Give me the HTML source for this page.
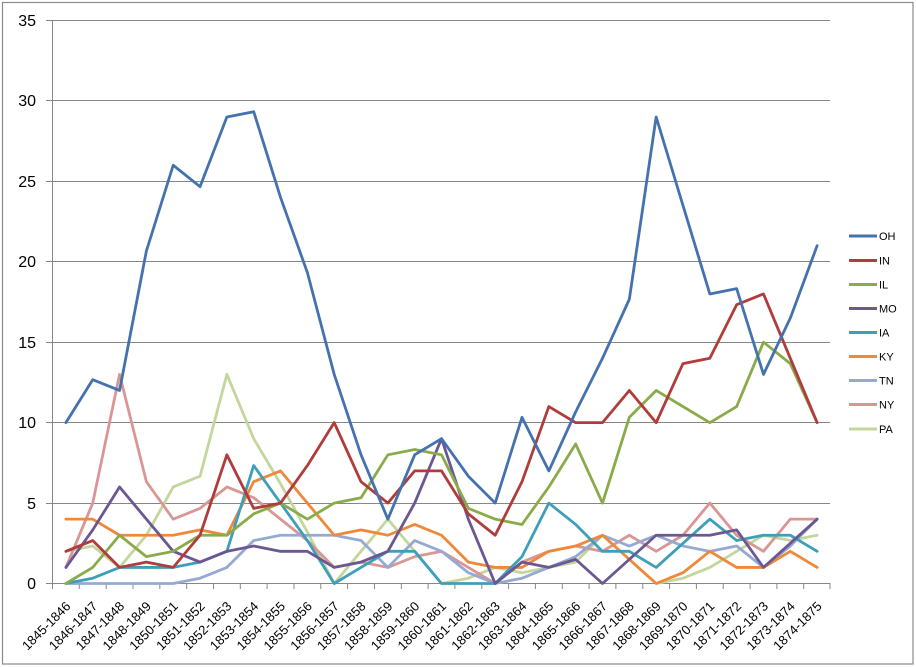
<!DOCTYPE html>
<html>
<head>
<meta charset="utf-8">
<style>
  html,body{margin:0;padding:0;background:#fff;}
  svg{display:block;}
  text{font-family:"Liberation Sans",sans-serif;fill:#000;}
</style>
</head>
<body>
<svg width="916" height="667" viewBox="0 0 916 667" xmlns="http://www.w3.org/2000/svg">
  <rect x="0" y="0" width="916" height="667" fill="#fff"/>
  <rect x="2.5" y="2.5" width="910.5" height="661.5" fill="none" stroke="#8a8a8a" stroke-width="1.2"/>

  <!-- gridlines -->
  <g stroke="#878787" stroke-width="1">
    <line x1="52" y1="20.5" x2="830" y2="20.5"/>
    <line x1="52" y1="100.5" x2="830" y2="100.5"/>
    <line x1="52" y1="181.5" x2="830" y2="181.5"/>
    <line x1="52" y1="261.5" x2="830" y2="261.5"/>
    <line x1="52" y1="342.5" x2="830" y2="342.5"/>
    <line x1="52" y1="422.5" x2="830" y2="422.5"/>
    <line x1="52" y1="503.5" x2="830" y2="503.5"/>
    <line x1="52" y1="583.5" x2="830" y2="583.5"/>
    <line x1="52.5" y1="20.5" x2="52.5" y2="583.5"/>
    <!-- y ticks -->
    <line x1="46" y1="20.5" x2="52" y2="20.5"/>
    <line x1="46" y1="100.5" x2="52" y2="100.5"/>
    <line x1="46" y1="181.5" x2="52" y2="181.5"/>
    <line x1="46" y1="261.5" x2="52" y2="261.5"/>
    <line x1="46" y1="342.5" x2="52" y2="342.5"/>
    <line x1="46" y1="422.5" x2="52" y2="422.5"/>
    <line x1="46" y1="503.5" x2="52" y2="503.5"/>
    <line x1="46" y1="583.5" x2="52" y2="583.5"/>
    <!-- x ticks -->
    <line x1="52.5" y1="583" x2="52.5" y2="589"/>
    <line x1="79.3" y1="583" x2="79.3" y2="589"/>
    <line x1="106.2" y1="583" x2="106.2" y2="589"/>
    <line x1="133" y1="583" x2="133" y2="589"/>
    <line x1="159.8" y1="583" x2="159.8" y2="589"/>
    <line x1="186.7" y1="583" x2="186.7" y2="589"/>
    <line x1="213.5" y1="583" x2="213.5" y2="589"/>
    <line x1="240.3" y1="583" x2="240.3" y2="589"/>
    <line x1="267.1" y1="583" x2="267.1" y2="589"/>
    <line x1="294" y1="583" x2="294" y2="589"/>
    <line x1="320.8" y1="583" x2="320.8" y2="589"/>
    <line x1="347.6" y1="583" x2="347.6" y2="589"/>
    <line x1="374.5" y1="583" x2="374.5" y2="589"/>
    <line x1="401.3" y1="583" x2="401.3" y2="589"/>
    <line x1="428.1" y1="583" x2="428.1" y2="589"/>
    <line x1="454.9" y1="583" x2="454.9" y2="589"/>
    <line x1="481.8" y1="583" x2="481.8" y2="589"/>
    <line x1="508.6" y1="583" x2="508.6" y2="589"/>
    <line x1="535.4" y1="583" x2="535.4" y2="589"/>
    <line x1="562.3" y1="583" x2="562.3" y2="589"/>
    <line x1="589.1" y1="583" x2="589.1" y2="589"/>
    <line x1="615.9" y1="583" x2="615.9" y2="589"/>
    <line x1="642.8" y1="583" x2="642.8" y2="589"/>
    <line x1="669.6" y1="583" x2="669.6" y2="589"/>
    <line x1="696.4" y1="583" x2="696.4" y2="589"/>
    <line x1="723.2" y1="583" x2="723.2" y2="589"/>
    <line x1="750.1" y1="583" x2="750.1" y2="589"/>
    <line x1="776.9" y1="583" x2="776.9" y2="589"/>
    <line x1="803.7" y1="583" x2="803.7" y2="589"/>
    <line x1="830" y1="583" x2="830" y2="589"/>
  </g>

  <!-- y labels -->
  <g font-size="16" text-anchor="end">
    <text x="36" y="26">35</text>
    <text x="36" y="106">30</text>
    <text x="36" y="187">25</text>
    <text x="36" y="267">20</text>
    <text x="36" y="348">15</text>
    <text x="36" y="428">10</text>
    <text x="36" y="509">5</text>
    <text x="36" y="589">0</text>
  </g>

  <!-- x labels -->
  <g font-size="13" text-anchor="end">
    <text transform="translate(71.4,607) rotate(-45)">1845-1846</text>
    <text transform="translate(98.2,607) rotate(-45)">1846-1847</text>
    <text transform="translate(125.1,607) rotate(-45)">1847-1848</text>
    <text transform="translate(151.9,607) rotate(-45)">1848-1849</text>
    <text transform="translate(178.7,607) rotate(-45)">1850-1851</text>
    <text transform="translate(205.6,607) rotate(-45)">1851-1852</text>
    <text transform="translate(232.4,607) rotate(-45)">1852-1853</text>
    <text transform="translate(259.2,607) rotate(-45)">1853-1854</text>
    <text transform="translate(286,607) rotate(-45)">1854-1855</text>
    <text transform="translate(312.9,607) rotate(-45)">1855-1856</text>
    <text transform="translate(339.7,607) rotate(-45)">1856-1857</text>
    <text transform="translate(366.5,607) rotate(-45)">1857-1858</text>
    <text transform="translate(393.4,607) rotate(-45)">1858-1859</text>
    <text transform="translate(420.2,607) rotate(-45)">1859-1860</text>
    <text transform="translate(447,607) rotate(-45)">1860-1861</text>
    <text transform="translate(473.8,607) rotate(-45)">1861-1862</text>
    <text transform="translate(500.7,607) rotate(-45)">1862-1863</text>
    <text transform="translate(527.5,607) rotate(-45)">1863-1864</text>
    <text transform="translate(554.3,607) rotate(-45)">1864-1865</text>
    <text transform="translate(581.2,607) rotate(-45)">1865-1866</text>
    <text transform="translate(608,607) rotate(-45)">1866-1867</text>
    <text transform="translate(634.8,607) rotate(-45)">1867-1868</text>
    <text transform="translate(661.7,607) rotate(-45)">1868-1869</text>
    <text transform="translate(688.5,607) rotate(-45)">1869-1870</text>
    <text transform="translate(715.3,607) rotate(-45)">1870-1871</text>
    <text transform="translate(742.1,607) rotate(-45)">1871-1872</text>
    <text transform="translate(769,607) rotate(-45)">1872-1873</text>
    <text transform="translate(795.8,607) rotate(-45)">1873-1874</text>
    <text transform="translate(822.6,607) rotate(-45)">1874-1875</text>
  </g>

  <!-- series (data coords: x = index, y = value) -->
  <g transform="translate(65.9,583.5) scale(26.83,-16.086)" fill="none" stroke-width="2.8" stroke-linejoin="round" stroke-linecap="round">
    <polyline vector-effect="non-scaling-stroke" stroke="#C3D69B" points="0,2 1,2.33 2,1 3,3 4,6 5,6.67 6,13 7,9 8,6.2 9,3.2 10,0 11,2 12,4 13,2 14,0 15,0.33 16,1 17,0.67 18,1 19,1.33 20,3 21,1.5 22,0 23,0.33 24,1 25,2 26,3 27,2.67 28,3"/>
    <polyline vector-effect="non-scaling-stroke" stroke="#D99694" points="0,1 1,5 2,13 3,6.33 4,4 5,4.67 6,6 7,5.33 8,4 9,2.67 10,1 11,1.33 12,1 13,1.67 14,2 15,1 16,0 17,1.33 18,2 19,2.33 20,2 21,3 22,2 23,3 24,5 25,3 26,2 27,4 28,4"/>
    <polyline vector-effect="non-scaling-stroke" stroke="#95A9D3" points="0,0 1,0 2,0 3,0 4,0 5,0.33 6,1 7,2.67 8,3 9,3 10,3 11,2.67 12,1 13,2.67 14,2 15,0.67 16,0 17,0.33 18,1 19,1.67 20,3 21,2.33 22,3 23,2.33 24,2 25,2.33 26,1 27,2.33 28,4"/>
    <polyline vector-effect="non-scaling-stroke" stroke="#F0883A" points="0,4 1,4 2,3 3,3 4,3 5,3.33 6,3 7,6.33 8,7 9,5 10,3 11,3.33 12,3 13,3.67 14,3 15,1.33 16,1 17,1 18,2 19,2.33 20,3 21,1.5 22,0 23,0.67 24,2 25,1 26,1 27,2 28,1"/>
    <polyline vector-effect="non-scaling-stroke" stroke="#3E9FBA" points="0,0 1,0.33 2,1 3,1 4,1 5,1.33 6,2 7,7.33 8,5 9,2.67 10,0 11,1 12,2 13,2 14,0 15,0 16,0 17,1.67 18,5 19,3.67 20,2 21,2 22,1 23,2.5 24,4 25,2.67 26,3 27,3 28,2"/>
    <polyline vector-effect="non-scaling-stroke" stroke="#6B5792" points="0,1 1,3.33 2,6 3,4 4,2 5,1.33 6,2 7,2.33 8,2 9,2 10,1 11,1.33 12,2 13,5 14,9 15,4 16,0 17,1.33 18,1 19,1.5 20,0 21,1.5 22,3 23,3 24,3 25,3.33 26,1 27,2.5 28,4"/>
    <polyline vector-effect="non-scaling-stroke" stroke="#8AAB4A" points="0,0 1,1 2,3 3,1.67 4,2 5,3 6,3 7,4.33 8,5 9,4 10,5 11,5.33 12,8 13,8.33 14,8 15,4.67 16,4 17,3.67 18,6 19,8.67 20,5 21,10.33 22,12 23,11 24,10 25,11 26,15 27,13.67 28,10"/>
    <polyline vector-effect="non-scaling-stroke" stroke="#B03C3B" points="0,2 1,2.67 2,1 3,1.33 4,1 5,3 6,8 7,4.67 8,5 9,7.33 10,10 11,6.33 12,5 13,7 14,7 15,4.33 16,3 17,6.33 18,11 19,10 20,10 21,12 22,10 23,13.67 24,14 25,17.33 26,18 27,14 28,10"/>
    <polyline vector-effect="non-scaling-stroke" stroke="#4472AE" points="0,10 1,12.67 2,12 3,20.67 4,26 5,24.67 6,29 7,29.33 8,24 9,19.33 10,13 11,8 12,4 13,8 14,9 15,6.67 16,5 17,10.33 18,7 19,10.67 20,14 21,17.67 22,29 23,23.5 24,18 25,18.33 26,13 27,16.5 28,21"/>
  </g>

  <!-- legend -->
  <g stroke-width="3">
    <line x1="849" y1="236" x2="877" y2="236" stroke="#4472AE"/>
    <line x1="849" y1="260.5" x2="877" y2="260.5" stroke="#B03C3B"/>
    <line x1="849" y1="284.5" x2="877" y2="284.5" stroke="#8AAB4A"/>
    <line x1="849" y1="308.5" x2="877" y2="308.5" stroke="#6B5792"/>
    <line x1="849" y1="332.5" x2="877" y2="332.5" stroke="#3E9FBA"/>
    <line x1="849" y1="356.5" x2="877" y2="356.5" stroke="#F0883A"/>
    <line x1="849" y1="380.5" x2="877" y2="380.5" stroke="#95A9D3"/>
    <line x1="849" y1="404.5" x2="877" y2="404.5" stroke="#D99694"/>
    <line x1="849" y1="429" x2="877" y2="429" stroke="#C3D69B"/>
  </g>
  <g font-size="11">
    <text x="879" y="240">OH</text>
    <text x="879" y="264.5">IN</text>
    <text x="879" y="288.5">IL</text>
    <text x="879" y="312.5">MO</text>
    <text x="879" y="336.5">IA</text>
    <text x="879" y="360.5">KY</text>
    <text x="879" y="384.5">TN</text>
    <text x="879" y="408.5">NY</text>
    <text x="879" y="433">PA</text>
  </g>
</svg>
</body>
</html>
